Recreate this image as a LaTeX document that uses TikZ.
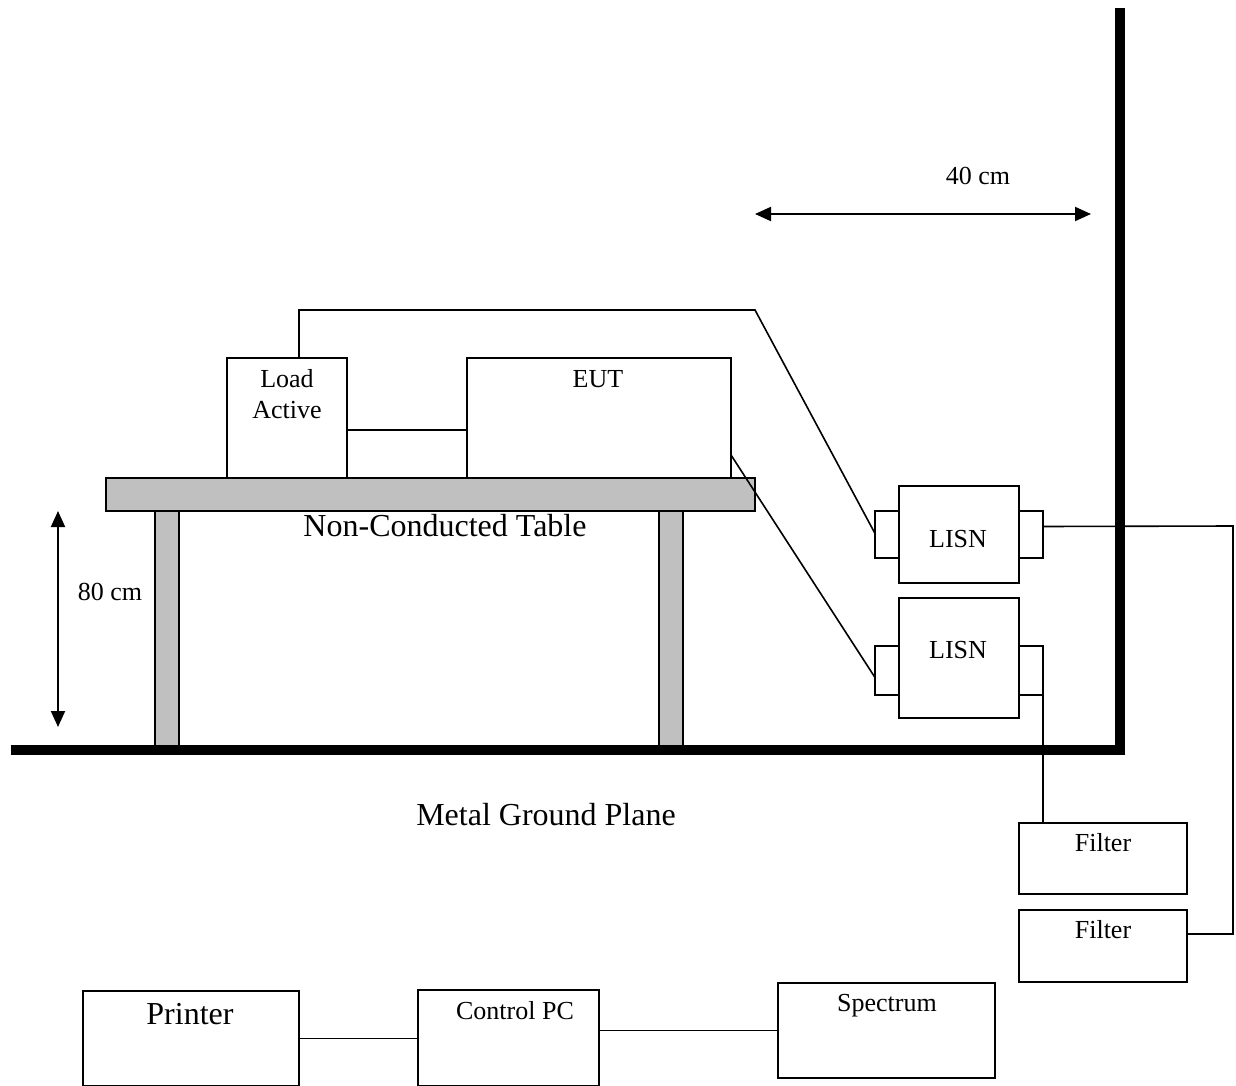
\documentclass[tikz,border=0pt]{standalone}
\usepackage{fontspec}
\setmainfont{Liberation Serif}
\usetikzlibrary{arrows.meta,calc}
\definecolor{tablegray}{HTML}{C0C0C0}
\begin{document}
\begin{tikzpicture}[x=1pt,y=-1pt,
  box/.style={draw, line width=2pt, inner sep=0pt, outer sep=0pt, anchor=north west, fill=white},
  gbox/.style={box, fill=tablegray},
  cable/.style={line width=1.6pt},
  lbl/.style={font=\fontsize{26}{31}\selectfont, anchor=base, inner sep=0pt, align=center},
  big/.style={font=\fontsize{32}{38}\selectfont, anchor=base, inner sep=0pt},
  dim/.style={line width=2pt, {Triangle[width=14pt,length=16pt]}-{Triangle[width=14pt,length=16pt]}},
  heavy/.style={line width=10pt}
]
\useasboundingbox (0,0) rectangle (1236,1086);
% table
\node[gbox, minimum width=24pt, minimum height=237pt] (legL) at (155,511) {};
\node[gbox, minimum width=24pt, minimum height=237pt] (legR) at (659,511) {};
\node[gbox, minimum width=649pt, minimum height=33pt] (table) at (106,478) {};
% devices
\node[box, minimum width=120pt, minimum height=120pt] (load) at (227,358) {};
\node[box, minimum width=264pt, minimum height=120pt] (eut) at (467,358) {};
\node[box, minimum width=24pt, minimum height=47pt] (l1L) at (875,511) {};
\node[box, minimum width=24pt, minimum height=47pt] (l1R) at (1019,511) {};
\node[box, minimum width=120pt, minimum height=97pt] (lisn1) at (899,486) {};
\node[box, minimum width=24pt, minimum height=49pt] (l2L) at (875,646) {};
\node[box, minimum width=24pt, minimum height=49pt] (l2R) at (1019,646) {};
\node[box, minimum width=120pt, minimum height=120pt] (lisn2) at (899,598) {};
\node[box, minimum width=168pt, minimum height=71pt] (filt1) at (1019,823) {};
\node[box, minimum width=168pt, minimum height=72pt] (filt2) at (1019,910) {};
\node[box, minimum width=217pt, minimum height=95pt] (spec) at (778,983) {};
\node[box, minimum width=181pt, minimum height=96pt] (pc) at (418,990) {};
\node[box, minimum width=216pt, minimum height=95pt] (printer) at (83,991) {};
% labels
\node[lbl] (tLoad) at (287,387) {Load};
\node[lbl] (tActive) at (287,418) {Active};
\node[lbl] (tEut) at (598,387) {EUT};
\node[lbl] (tL1) at (958,547) {LISN};
\node[lbl] (tL2) at (958,658) {LISN};
\node[lbl] (tF1) at (1103,851) {Filter};
\node[lbl] (tF2) at (1103,938) {Filter};
\node[lbl] (tSpec) at (887,1011) {Spectrum};
\node[lbl] (tPc) at (515,1019) {Control PC};
\node[big] (tPrinter) at (190,1024) {Printer};
\node[big] (tTable) at (445,536) {Non-Conducted Table};
\node[big] (tGround) at (546,825) {Metal Ground Plane};
\node[lbl] (t40) at (978,185) {40 cm};
\node[lbl] (t80) at (110,600) {80 cm};
% dimensions
\coordinate (d40a) at (755,214);
\coordinate (d40b) at (1091,214);
\draw[dim] (d40a) -- (d40b);
\coordinate (d80a) at (58,511);
\coordinate (d80b) at (58,727);
\draw[dim] (d80a) -- (d80b);
% cables
\draw[cable] ($(load.north)+(12,0)$) -- ++(0,-48) -- (755,310) -- ($(l1L.west)+(0,-1)$);
\draw[cable] ($(load.east)+(0,12)$) -- ($(eut.west)+(0,12)$);
\draw[cable] ($(eut.east)+(0,37)$) -- ($(l2L.west)+(0,7)$);
\draw[cable] ($(l1R.east)+(0,-8)$) -- (1233,526) -- (1233,934) -- (filt2.east |- 0,934);
\draw[cable] (l2R.south east) -- (l2R.south east |- filt1.north);
\draw[cable] ($(lisn2.south)+(12,0)$) -- ($(lisn2.south)+(12,0)$ |- spec.north);
\draw[cable] (printer.east) -- (printer.east -| pc.west);
\draw[cable] (spec.west -| pc.east) -- (spec.west);
% ground plane and wall
\coordinate (gL) at (11,750);
\coordinate (gR) at (1120,750);
\coordinate (wT) at (1120,8);
\coordinate (wB) at (1120,755);
\draw[heavy] (gL) -- (gR);
\draw[heavy] (wT) -- (wB);
\end{tikzpicture}
\end{document}
